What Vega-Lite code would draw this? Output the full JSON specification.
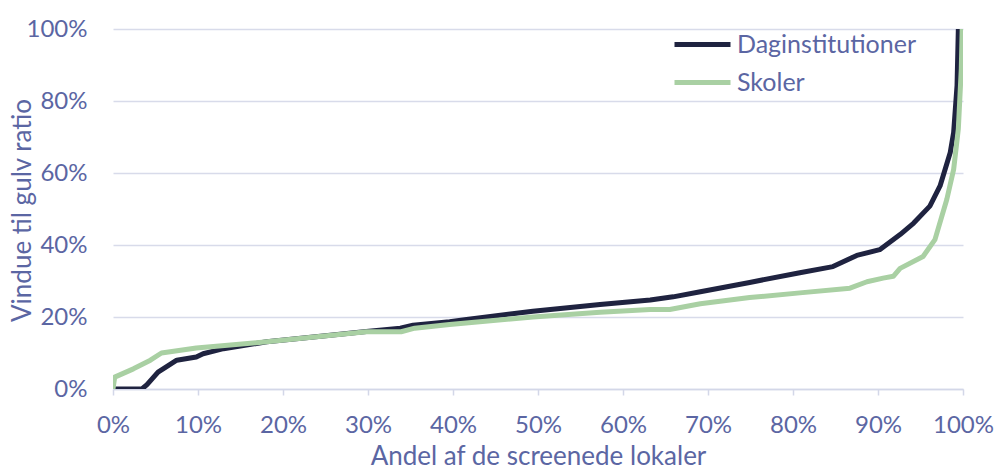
{
  "$schema": "https://vega.github.io/schema/vega-lite/v6.json",
  "autosize": {"type": "none"},
  "width": 850,
  "height": 360,
  "padding": {"left": 113, "top": 29, "right": 32, "bottom": 80},
  "background": "white",
  "config": {
    "view": {"stroke": null},
    "font": "Lato",
    "axis": {"labelFont": "Lato", "titleFont": "Lato", "labelColor": "#5b66a3", "titleColor": "#5b66a3", "labelFontSize": 24, "titleFontSize": 26, "titleFontWeight": "normal"}
  },
  "datasets": {
    "curves": [
      {"andel": 0.0, "ratio": 0.0, "type": "Daginstitutioner"},
      {"andel": 0.034, "ratio": 0.0, "type": "Daginstitutioner"},
      {"andel": 0.04, "ratio": 0.012, "type": "Daginstitutioner"},
      {"andel": 0.053, "ratio": 0.047, "type": "Daginstitutioner"},
      {"andel": 0.075, "ratio": 0.08, "type": "Daginstitutioner"},
      {"andel": 0.098, "ratio": 0.089, "type": "Daginstitutioner"},
      {"andel": 0.106, "ratio": 0.098, "type": "Daginstitutioner"},
      {"andel": 0.13, "ratio": 0.112, "type": "Daginstitutioner"},
      {"andel": 0.181, "ratio": 0.131, "type": "Daginstitutioner"},
      {"andel": 0.25, "ratio": 0.148, "type": "Daginstitutioner"},
      {"andel": 0.298, "ratio": 0.16, "type": "Daginstitutioner"},
      {"andel": 0.338, "ratio": 0.169, "type": "Daginstitutioner"},
      {"andel": 0.353, "ratio": 0.177, "type": "Daginstitutioner"},
      {"andel": 0.396, "ratio": 0.187, "type": "Daginstitutioner"},
      {"andel": 0.416, "ratio": 0.193, "type": "Daginstitutioner"},
      {"andel": 0.494, "ratio": 0.216, "type": "Daginstitutioner"},
      {"andel": 0.573, "ratio": 0.235, "type": "Daginstitutioner"},
      {"andel": 0.632, "ratio": 0.247, "type": "Daginstitutioner"},
      {"andel": 0.659, "ratio": 0.256, "type": "Daginstitutioner"},
      {"andel": 0.691, "ratio": 0.27, "type": "Daginstitutioner"},
      {"andel": 0.749, "ratio": 0.296, "type": "Daginstitutioner"},
      {"andel": 0.808, "ratio": 0.323, "type": "Daginstitutioner"},
      {"andel": 0.847, "ratio": 0.34, "type": "Daginstitutioner"},
      {"andel": 0.875, "ratio": 0.371, "type": "Daginstitutioner"},
      {"andel": 0.902, "ratio": 0.387, "type": "Daginstitutioner"},
      {"andel": 0.926, "ratio": 0.429, "type": "Daginstitutioner"},
      {"andel": 0.942, "ratio": 0.461, "type": "Daginstitutioner"},
      {"andel": 0.961, "ratio": 0.508, "type": "Daginstitutioner"},
      {"andel": 0.973, "ratio": 0.564, "type": "Daginstitutioner"},
      {"andel": 0.985, "ratio": 0.657, "type": "Daginstitutioner"},
      {"andel": 0.989, "ratio": 0.713, "type": "Daginstitutioner"},
      {"andel": 0.993, "ratio": 0.843, "type": "Daginstitutioner"},
      {"andel": 0.995, "ratio": 1.05, "type": "Daginstitutioner"},
      {"andel": 0.0, "ratio": 0.0, "type": "Skoler"},
      {"andel": 0.002, "ratio": 0.033, "type": "Skoler"},
      {"andel": 0.024, "ratio": 0.056, "type": "Skoler"},
      {"andel": 0.044, "ratio": 0.08, "type": "Skoler"},
      {"andel": 0.057, "ratio": 0.1, "type": "Skoler"},
      {"andel": 0.098, "ratio": 0.114, "type": "Skoler"},
      {"andel": 0.181, "ratio": 0.131, "type": "Skoler"},
      {"andel": 0.298, "ratio": 0.159, "type": "Skoler"},
      {"andel": 0.339, "ratio": 0.159, "type": "Skoler"},
      {"andel": 0.355, "ratio": 0.169, "type": "Skoler"},
      {"andel": 0.396, "ratio": 0.179, "type": "Skoler"},
      {"andel": 0.494, "ratio": 0.2, "type": "Skoler"},
      {"andel": 0.573, "ratio": 0.213, "type": "Skoler"},
      {"andel": 0.632, "ratio": 0.221, "type": "Skoler"},
      {"andel": 0.655, "ratio": 0.221, "type": "Skoler"},
      {"andel": 0.691, "ratio": 0.237, "type": "Skoler"},
      {"andel": 0.749, "ratio": 0.254, "type": "Skoler"},
      {"andel": 0.808, "ratio": 0.267, "type": "Skoler"},
      {"andel": 0.867, "ratio": 0.28, "type": "Skoler"},
      {"andel": 0.887, "ratio": 0.298, "type": "Skoler"},
      {"andel": 0.906, "ratio": 0.308, "type": "Skoler"},
      {"andel": 0.918, "ratio": 0.313, "type": "Skoler"},
      {"andel": 0.926, "ratio": 0.335, "type": "Skoler"},
      {"andel": 0.953, "ratio": 0.368, "type": "Skoler"},
      {"andel": 0.967, "ratio": 0.415, "type": "Skoler"},
      {"andel": 0.981, "ratio": 0.527, "type": "Skoler"},
      {"andel": 0.989, "ratio": 0.61, "type": "Skoler"},
      {"andel": 0.9945, "ratio": 0.722, "type": "Skoler"},
      {"andel": 0.998, "ratio": 0.89, "type": "Skoler"},
      {"andel": 0.9995, "ratio": 1.05, "type": "Skoler"}
    ]
  },
  "layer": [
    {
      "mark": {"type": "rule", "color": "#e3a29f", "strokeWidth": 2, "strokeDash": [9, 6]},
      "encoding": {
        "y": {"datum": 0.093, "type": "quantitative", "scale": {"domain": [0, 1]}}
      }
    },
    {
      "data": {"name": "curves"},
      "mark": {"type": "line", "strokeWidth": 5, "clip": true, "strokeCap": "butt", "strokeJoin": "round"},
      "encoding": {
        "x": {
          "field": "andel", "type": "quantitative",
          "scale": {"domain": [0, 1], "nice": false},
          "title": "Andel af de screenede lokaler",
          "axis": {
            "values": [0, 0.1, 0.2, 0.3, 0.4, 0.5, 0.6, 0.7, 0.8, 0.9, 1],
            "format": ".0%",
            "grid": false,
            "labelFlush": false,
            "labelOverlap": false,
            "labelBound": false,
            "domainColor": "#d3d7e8",
            "domainWidth": 1.5,
            "tickColor": "#d3d7e8",
            "tickWidth": 1.5,
            "tickSize": 6,
            "labelPadding": 18,
            "titleX": 425,
            "titleY": 67,
            "titleAlign": "center",
            "titleBaseline": "middle"
          }
        },
        "y": {
          "field": "ratio", "type": "quantitative",
          "scale": {"domain": [0, 1], "nice": false, "clamp": false},
          "title": "Vindue til gulv ratio",
          "axis": {
            "values": [0, 0.1, 0.2, 0.3, 0.4, 0.5, 0.6, 0.7, 0.8, 0.9, 1],
            "labelExpr": "round(datum.value*10) % 2 == 0 ? format(datum.value, '.0%') : ''",
            "domain": false,
            "ticks": false,
            "grid": true,
            "labelOverlap": false,
            "gridColor": {"condition": {"test": "round(datum.value*10) % 2 == 1", "value": "#eff0f6"}, "value": "#d8dbea"},
            "gridWidth": 1.5,
            "labelPadding": 26,
            "titleX": -91,
            "titleY": 181,
            "titleAngle": 270,
            "titleAlign": "center",
            "titleBaseline": "middle"
          }
        },
        "color": {
          "field": "type", "type": "nominal",
          "scale": {"domain": ["Daginstitutioner", "Skoler"], "range": ["#1f2340", "#a9d0a3"]},
          "legend": {
            "title": null,
            "orient": "none",
            "legendX": 573,
            "legendY": -1,
            "symbolType": "M-2,0H2",
            "symbolSize": 784,
            "symbolStrokeWidth": 5,
            "labelFontSize": 25,
            "labelFont": "Lato",
            "labelColor": "#5b66a3",
            "labelOffset": 18,
            "labelLimit": 400,
            "rowPadding": 8
          }
        }
      }
    }
  ]
}
